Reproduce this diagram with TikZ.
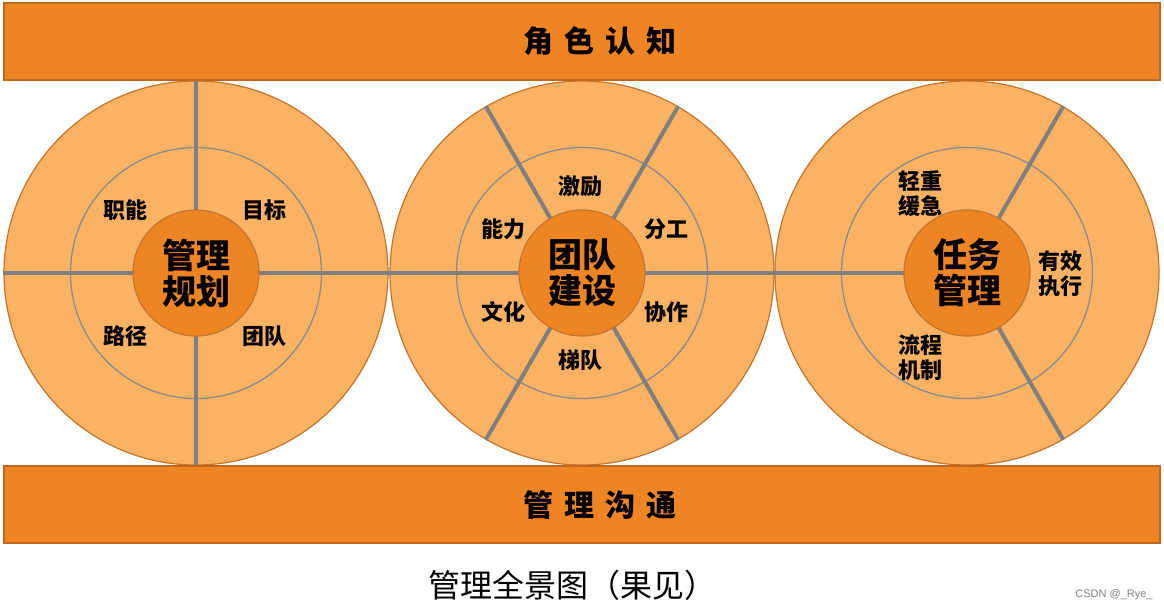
\documentclass[tikz,border=0pt]{standalone}
\usepackage{fontspec}
\newfontfamily\cjk{Noto Sans CJK SC}
\newfontfamily\wmfont{Liberation Sans}
\usepackage{xcolor}
\usepackage{tikz}
\usetikzlibrary{positioning}

\definecolor{barfill}{HTML}{EE8422}
\definecolor{baredge}{HTML}{C0671D}
\definecolor{ringfill}{HTML}{FBB263}
\definecolor{ringedge}{HTML}{C4742C}
\definecolor{hubfill}{HTML}{EE8523}
\definecolor{hubedge}{HTML}{C27530}
\definecolor{spokegray}{HTML}{7F7F7F}
\definecolor{midgray}{HTML}{8A8A8A}

\begin{document}
\begin{tikzpicture}[
  x=1pt, y=-1pt,
  ring/.style={circle, draw=ringedge, fill=ringfill, line width=1.2pt, minimum size=384pt, inner sep=0pt},
  midring/.style={circle, draw=midgray, line width=1.3pt, minimum size=251pt, inner sep=0pt},
  spoke/.style={draw=spokegray, line width=4pt},
  hub/.style={circle, draw=hubedge, fill=hubfill, line width=1.2pt, minimum size=126pt, inner sep=0pt, align=center, font=\cjk\bfseries\fontsize{34}{36}\selectfont},
  tag/.style={align=center, font=\cjk\bfseries\fontsize{22}{25}\selectfont},
  bar/.style={draw=baredge, fill=barfill, line width=1.2pt, minimum width=1156pt, minimum height=77pt, inner sep=0pt},
  bartext/.style={font=\cjk\bfseries\fontsize{30}{36}\selectfont}
]

\useasboundingbox[fill=white] (0,0) rectangle (1164,610);

% Rings
\foreach \i/\x in {1/196,2/582,3/967} {
  \node[ring] (c\i) at (\x,273) {};
  \node[midring] (m\i) at (\x,273) {};
}

% Spokes
\draw[spoke] (c1.90) -- (c1.270);
\draw[spoke] (c1.180) -- (c3.center);
\draw[spoke] (c2.60) -- (c2.240);
\draw[spoke] (c2.120) -- (c2.300);
\draw[spoke] (c3.center) -- (c3.60);
\draw[spoke] (c3.center) -- (c3.-60);

% Hubs
\node[hub] (h1) at (196,273) {管理\\规划};
\node[hub] (h2) at (582,273) {团队\\建设};
\node[hub] (h3) at (967,273) {任务\\管理};

% Tags
\node[tag] (t11) at (125,210) {职能};
\node[tag] (t12) at (264,210) {目标};
\node[tag] (t13) at (125,336) {路径};
\node[tag] (t14) at (264,336) {团队};

\node[tag] (t21) at (580,186) {激励};
\node[tag] (t22) at (503,229) {能力};
\node[tag] (t23) at (666,229) {分工};
\node[tag] (t24) at (503,312) {文化};
\node[tag] (t25) at (666,312) {协作};
\node[tag] (t26) at (580,360) {梯队};

\node[tag] (t31) at (920,194) {轻重\\缓急};
\node[tag] (t32) at (1060,274) {有效\\执行};
\node[tag] (t33) at (920,358) {流程\\机制};

% Bars
\node[bar] (top) at (582,41.5) {};
\node[bartext] (toptext) at ([xshift=18pt]top.center) {角\hspace{11pt}色\hspace{11pt}认\hspace{11pt}知};
\node[bar] (bottom) at (582,504.5) {};
\node[bartext] (bottomtext) at ([xshift=18pt]bottom.center) {管\hspace{11pt}理\hspace{11pt}沟\hspace{11pt}通};

% Caption
\node[font=\cjk\fontsize{32}{36}\selectfont] (caption) at (572,585) {管理全景图（果见）};
\node[font=\wmfont\fontsize{11}{13}\selectfont, text=gray] (mark) at (1114,595) {CSDN @\_Rye\_};

\end{tikzpicture}
\end{document}
